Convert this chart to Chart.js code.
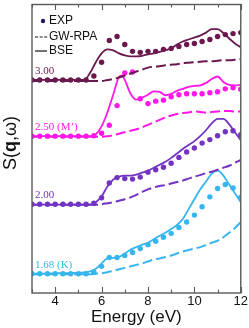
<!DOCTYPE html>
<html><head><meta charset="utf-8">
<script src="https://cdn.jsdelivr.net/npm/chart.js@4"></script>
<style>html,body{margin:0;padding:0;background:#fff}canvas{display:block}</style>
</head><body>
<canvas id="c" width="249" height="328"></canvas>
<script>
// ---- data ----
const expEnergy = [3,3.333,3.667,4,4.333,4.667,5,5.333,5.667,6,6.333,6.667,7,7.333,7.667,8,8.333,8.667,9,9.333,9.667,10,10.333,10.667,11,11.333,11.667,12];
const lineEnergy = [3,3.25,3.5,3.75,4,4.25,4.5,4.75,5,5.25,5.5,5.75,6,6.25,6.5,6.75,7,7.25,7.5,7.75,8,8.25,8.5,8.75,9,9.25,9.5,9.75,10,10.25,10.5,10.75,11,11.25,11.5,11.75,12];
const bseEnergyM = [3,3.5,4,4.5,5,5.25,5.5,5.75,6,6.25,6.5,6.75,6.88,7,7.25,7.5,7.75,8,8.25,8.5,8.75,9,9.25,9.5,9.75,10,10.25,10.5,10.75,11,11.25,11.5,11.75,12];

// q = 3.00
const exp300 = [216,216,216,216,216,216,216,216,220,234,256,260,252,245,244,245,245,247,248,250,252,253,255,257,260,262,263,264];
const bse300 = [216,216,216,216,216,216,216,216,216,216,223,234,243,247,246,243,241,240,240,240.5,242,243,244.5,246,248,252,255,257,259,261,264,267.5,267.5,263.5,258,253,249];
const rpa300 = [215,215,215,215,215,215,215,215,215,215,215,215,215,216,217,218.5,220.5,222.5,224.5,226.5,228.5,229.5,230,231,231.5,232,233,233.5,234,234.5,235,235,235.5,236,236,236.5,237];
// q = 2.50 (M')
const exp250 = [159,159,159,159,159,159,159,159,159.5,162,170,190,223,224,197,192,194.5,195.5,199,201,202,202,202,203,204,207,208,206.5];
const bse250 = [159,159,159,159,159,159,159,161,169,183,201,219,220.5,216,202,196,198,201,204.5,204,200.5,202,205,207,209,210,210.5,213,217,219.5,214,211,210.5,211];
const rpa250 = [158.5,158.5,158.5,158.5,158.5,158.5,158.5,158.5,158.5,158.5,158.5,158.5,158.5,159,160,161.5,163,164.5,166,168,170.5,173,175.5,178,180,181.5,182.5,183,184,183.5,183,183.5,184,184.5,184.5,184,184];
// q = 2.00
const exp200 = [90,90,90,90,90,90,90,90,91,96.5,111.5,117,116,115.5,117.5,122.5,125,127.5,131.5,137.5,143,147,152,155.5,159.5,163.5,164.5,160.5];
const bse200 = [89.5,89.5,89.5,89.5,89.5,89.5,89.5,89.5,89.5,89.5,89.5,92,98,108,115,118,119,119,120,122,124,127,130,133,137,141.5,146,150,154,159,165,172,176.5,176.5,171,163,155];
const rpa200 = [89.5,89.5,89.5,89.5,89.5,89.5,89.5,89.5,89.5,89.5,89.5,89.5,90,91,92,93.5,95,97,99.5,102.5,105,107,108.5,109.5,111,112.5,114,116,118,119.5,121.5,123,125,127,129,132,135];
// q = 1.68 (K)
const exp168 = [19.5,19.5,19.5,19.5,19.5,19.5,19.5,19.5,21,27,36,36,38,41,45,49,52.5,56.5,60.5,66.5,72,79,87.5,97.5,106,110,106.5,97];
const bse168 = [19.5,19.5,19.5,19.7,20,20,20,20.3,20.5,21,22,24.5,30,35,35.5,36.5,40,44,46.5,49,51,54.5,58,61,65,69,75,85,95,105,113,121,124,119,110,101,92];
const rpa168 = [19,19,19,19,19,19,19,19,19,19,19,19.5,20,21,22.5,24,25.5,27,28.5,30,32,34,35,36.5,38,40,42,43.5,45,46.5,48.5,51,53,56.5,61,66,72];

const xTickLabels = [4,6,8,10,12];
const xMinorTicks = [3,5,7,9,11];
const seriesLabels = ['3.00','2.50 (M\u2019)','2.00','1.68 (K)'];
const seriesBase = [216,159,90,19.5];
const legendLabels = ['EXP','GW-RPA','BSE'];

// ---- styles ----
const colors = ['#6a184e','#ff17e8','#7233c2','#36b5ef'];

function pts(xs, ys){ return xs.map((x,i)=>({x:x, y:ys[i]})); }

const groups = [
  [exp300,bse300,rpa300,lineEnergy],
  [exp250,bse250,rpa250,bseEnergyM],
  [exp200,bse200,rpa200,lineEnergy],
  [exp168,bse168,rpa168,lineEnergy]
];
const datasets = [];
groups.forEach((g,i)=>{
  const c = colors[i];
  datasets.push({data:pts(expEnergy,g[0]),showLine:false,pointRadius:2.7,pointBackgroundColor:c,pointBorderWidth:0,borderColor:c});
  datasets.push({data:pts(g[3],g[1]),borderColor:c,borderWidth:1.8,pointRadius:0,cubicInterpolationMode:'monotone',fill:false});
  datasets.push({data:pts(lineEnergy,g[2]),borderColor:c,borderWidth:2,borderDash:[10,4],pointRadius:0,cubicInterpolationMode:'monotone',fill:false});
});

const overlay = {
  id:'overlay',
  afterDatasetsDraw(chart){
    const ctx = chart.ctx, a = chart.chartArea, x = chart.scales.x, y = chart.scales.y;
    ctx.save();
    // frame
    ctx.strokeStyle = '#5a5a5a'; ctx.lineWidth = 1.4; ctx.setLineDash([]);
    ctx.strokeRect(a.left, a.top + 0.5, a.right - a.left, a.bottom - a.top - 0.5);
    // inward ticks
    ctx.lineWidth = 1.1;
    const drawTick = (v, len) => {
      const px = Math.round(x.getPixelForValue(v)) + 0.5;
      ctx.beginPath();
      ctx.moveTo(px, a.bottom); ctx.lineTo(px, a.bottom - len);
      ctx.moveTo(px, a.top); ctx.lineTo(px, a.top + len);
      ctx.stroke();
    };
    xTickLabels.forEach(v => drawTick(v, 6));
    xMinorTicks.forEach(v => drawTick(v, 3.5));
    // legend
    const lx = a.left, ly = a.top;
    ctx.fillStyle = '#1b1b5e';
    ctx.beginPath(); ctx.arc(lx + 11, ly + 17, 2.2, 0, Math.PI * 2); ctx.fill();
    ctx.strokeStyle = '#111'; ctx.lineWidth = 1.2;
    ctx.setLineDash([3, 1.6]);
    ctx.beginPath(); ctx.moveTo(lx + 3, ly + 33); ctx.lineTo(lx + 16, ly + 33); ctx.stroke();
    ctx.setLineDash([]);
    ctx.beginPath(); ctx.moveTo(lx + 3, ly + 47); ctx.lineTo(lx + 15, ly + 47); ctx.stroke();
    ctx.fillStyle = '#111';
    ctx.font = '12px "Liberation Sans", Arial, sans-serif';
    ctx.textBaseline = 'middle'; ctx.textAlign = 'left';
    ctx.fillText(legendLabels[0], lx + 17, ly + 17);
    ctx.fillText(legendLabels[1], lx + 17, ly + 33);
    ctx.fillText(legendLabels[2], lx + 17, ly + 47);
    // series labels
    ctx.font = '11px "Liberation Serif", "Times New Roman", serif';
    ctx.textBaseline = 'alphabetic';
    seriesLabels.forEach((t, i) => {
      ctx.fillStyle = colors[i];
      ctx.fillText(t, a.left + 3, y.getPixelForValue(seriesBase[i]) - 6);
    });
    // y title S(q,w) with bold q
    ctx.translate(11, 143);
    ctx.rotate(-Math.PI / 2);
    ctx.fillStyle = '#111';
    ctx.textBaseline = 'middle';
    const f = '18px "Liberation Sans", Arial, sans-serif';
    const parts = [['S(', f], ['q', 'bold ' + f], [',\u03c9)', f]];
    let tot = 0;
    parts.forEach(p => { ctx.font = p[1]; tot += ctx.measureText(p[0]).width; });
    let cx = -tot / 2;
    parts.forEach(p => { ctx.font = p[1]; ctx.fillText(p[0], cx, 0); cx += ctx.measureText(p[0]).width; });
    ctx.restore();
  }
};

new Chart(document.getElementById('c'), {
  type: 'line',
  data: { datasets: datasets },
  options: {
    responsive: false, animation: false, devicePixelRatio: 1,
    layout: { padding: { left: 32, right: 8, top: 0, bottom: 0 } },
    plugins: { legend: { display: false }, tooltip: { enabled: false } },
    scales: {
      x: {
        type: 'linear', min: 3, max: 12,
        afterBuildTicks: s => { s.ticks = xTickLabels.map(v => ({ value: v })); },
        afterFit: s => { s.height = 35; },
        grid: { display: false, drawTicks: false },
        border: { display: false },
        ticks: { font: { family: '"Liberation Sans", Arial, sans-serif', size: 13 }, color: '#111', padding: 1, maxRotation: 0, autoSkip: false },
        title: { display: true, text: 'Energy (eV)', font: { family: '"Liberation Sans", Arial, sans-serif', size: 17 }, color: '#111', padding: { top: 0, bottom: 0 } }
      },
      y: { display: false, min: 0, max: 293 }
    }
  },
  plugins: [overlay]
});
</script>
</body></html>
